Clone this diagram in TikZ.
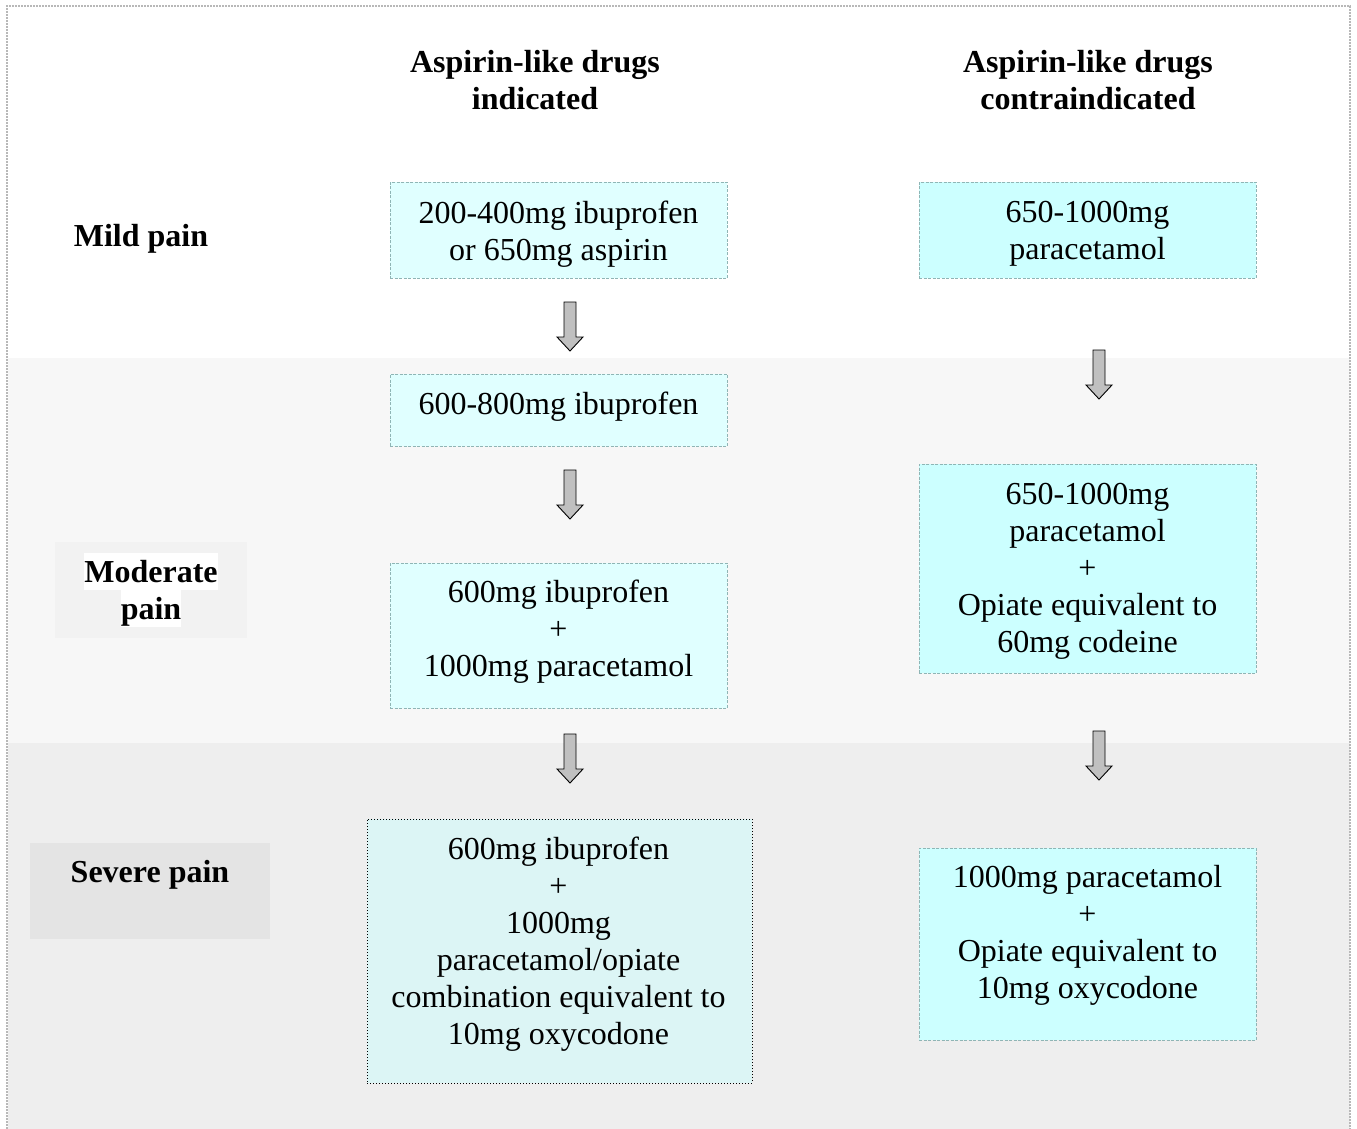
\documentclass[tikz,border=0pt]{standalone}
\usepackage{fontspec}
\setmainfont{Liberation Serif}
\definecolor{bandtwo}{HTML}{F7F7F7}
\definecolor{bandthree}{HTML}{EEEEEE}
\definecolor{modbg}{HTML}{F2F2F2}
\definecolor{sevbg}{HTML}{E4E4E4}
\definecolor{lcyan}{HTML}{E0FFFF}
\definecolor{rcyan}{HTML}{CCFFFF}
\definecolor{scyan}{HTML}{DCF5F5}
\definecolor{boxline}{HTML}{8FB5B5}
\definecolor{frameline}{HTML}{B8B8B8}
\definecolor{arrowfill}{HTML}{C0C0C0}
\newcommand{\hlline}[1]{{\setlength{\fboxsep}{0pt}\colorbox{white}{\rule[-8pt]{0pt}{37pt}#1}}}
\begin{document}
\begin{tikzpicture}[x=1pt,y=-1pt,
  every node/.style={font=\fontsize{32}{37}\selectfont, align=center, inner sep=0pt},
  cbox/.style={draw=boxline, dash pattern=on 3pt off 1.5pt, line width=0.7pt},
  lbox/.style={cbox, fill=lcyan, minimum width=337pt},
  rbox/.style={cbox, fill=rcyan, minimum width=337pt},
  sbox/.style={draw=black, dotted, line width=1pt, fill=scyan},
  hdr/.style={font=\fontsize{32}{37}\selectfont\bfseries},
  painlbl/.style={font=\fontsize{32}{37}\selectfont\bfseries},
  blockarrow/.style={draw=black, line width=0.9pt, fill=arrowfill, line join=miter}
]
\useasboundingbox (0,0) rectangle (1357,1129);
% bands
\fill[white] (0,0) rectangle (1357,1129);
\fill[bandtwo] (8,358) rectangle (1350,743);
\fill[bandthree] (8,743) rectangle (1350,1129);
% outer frame
\draw[frameline, line width=2.2pt, dash pattern=on 2pt off 1pt]
  (7,1129) -- (7,6) -- (1350,6) -- (1350,1129);

% headers
\node[hdr] (h1) at (535,80) {Aspirin-like drugs\\indicated};
\node[hdr] (h2) at (1088,80) {Aspirin-like drugs\\contraindicated};

% pain labels
\node[painlbl] (mild) at (141,239) {Mild pain};
\node[fill=modbg, minimum width=192pt, minimum height=96pt] (modbox) at (151,590) {};
\node[painlbl] (mod) at (151,590) {\hlline{Moderate}\\[-0pt]\hlline{pain}};
\node[fill=sevbg, minimum width=240pt, minimum height=96pt] (sevbox) at (150,891) {};
\node[painlbl] (sev) at (150,875) {Severe pain};

% left column
\node[lbox, minimum height=96pt] (L1) at (558.5,230) {};
\node (L1t) at (558.5,234) {200-400mg ibuprofen\\or 650mg aspirin};
\node[lbox, minimum height=72pt] (L2) at (558.5,410) {};
\node (L2t) at (558.5,407) {600-800mg ibuprofen};
\node[lbox, minimum height=145pt] (L3) at (558.5,635.5) {};
\node (L3t) at (558.5,632) {600mg ibuprofen\\+\\1000mg paracetamol};
\node[sbox, minimum width=385pt, minimum height=264pt] (L4) at (559.5,951) {};
\node (L4t) at (558.5,944.5) {600mg ibuprofen\\+\\1000mg\\paracetamol/opiate\\combination equivalent to\\10mg oxycodone};

% right column
\node[rbox, minimum height=96pt] (R1) at (1087.5,230) {};
\node (R1t) at (1087.5,234) {650-1000mg\\paracetamol};
\node[rbox, minimum height=209pt] (R2) at (1087.5,568.5) {};
\node (R2t) at (1087.5,571) {650-1000mg\\paracetamol\\+\\Opiate equivalent to\\60mg codeine};
\node[rbox, minimum height=192pt] (R3) at (1087.5,944) {};
\node (R3t) at (1087.5,935.5) {1000mg paracetamol\\+\\Opiate equivalent to\\10mg oxycodone};

% block arrows
\coordinate (a1) at (570,302);
\coordinate (a2) at (570,470);
\coordinate (a3) at (570,734);
\coordinate (a4) at (1099,350);
\coordinate (a5) at (1099,731);
\foreach \a in {a1,a2,a3,a4,a5}{
  \draw[blockarrow] (\a) ++(-6,0) -- ++(12,0) -- ++(0,35) -- ++(7,0)
    -- ++(-13,14) -- ++(-13,-14) -- ++(7,0) -- cycle;
}
\end{tikzpicture}
\end{document}
